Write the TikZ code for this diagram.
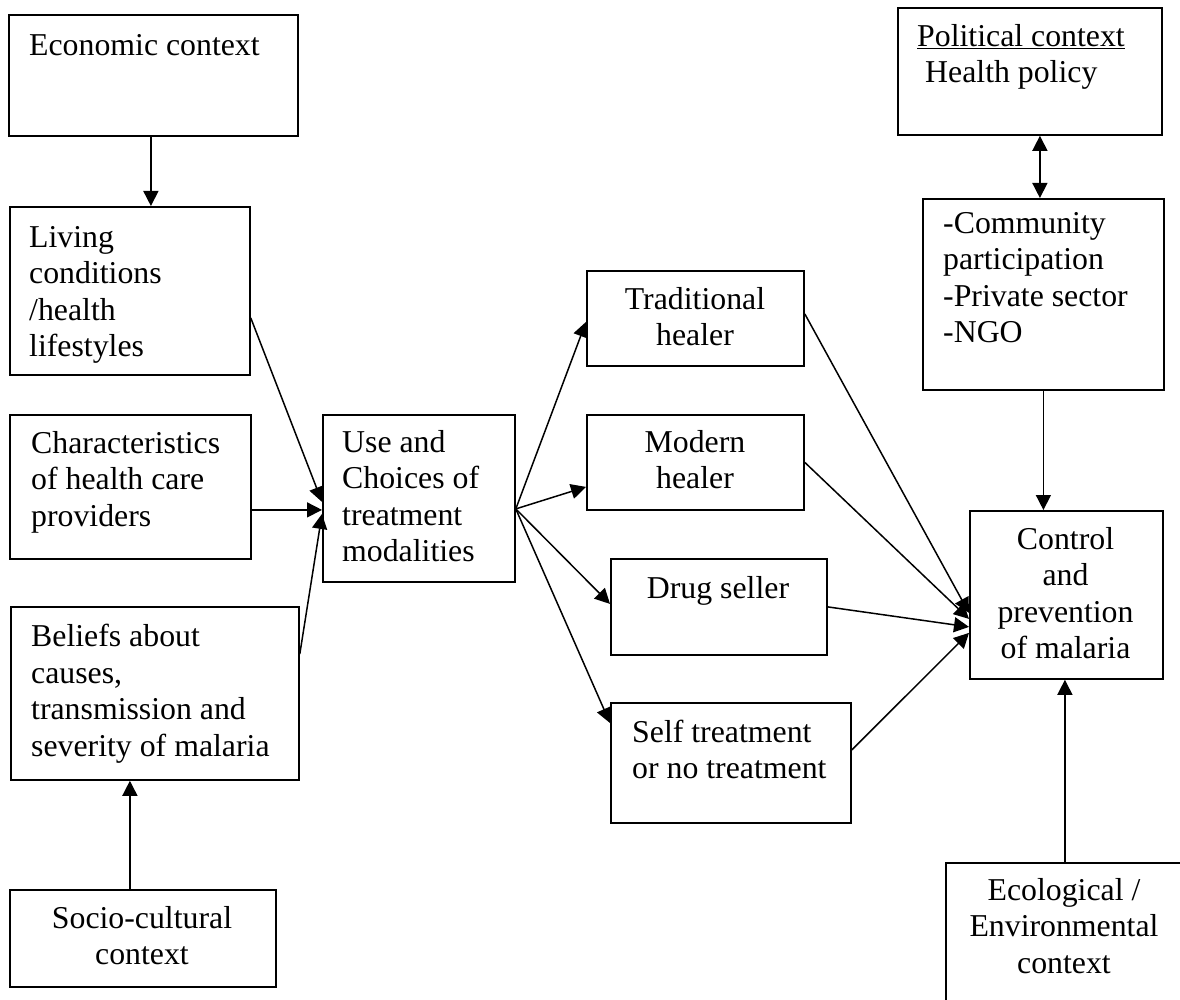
\documentclass[tikz,border=0pt]{standalone}
\usepackage{fontspec}
\setmainfont{Liberation Serif}
\usetikzlibrary{arrows.meta}
\begin{document}
\begin{tikzpicture}[x=1pt,y=-1pt,
  box/.style={draw, line width=1.8pt, rectangle, anchor=north west, inner sep=0pt},
  txt/.style={inner sep=0pt, font=\fontsize{31.8}{36.5}\selectfont, anchor=north west, align=left},
  ctxt/.style={txt, anchor=north, align=center},
  tip/.tip={Triangle[length=15pt,width=15pt]},
  arr/.style={line width=1.5pt, -tip},
  dbl/.style={line width=1.5pt, tip-tip}
]
\useasboundingbox (0,0) rectangle (1180,1000);
\fill[white] (0,0) rectangle (1180,1000);
\clip (0,0) rectangle (1180,1000);

% boxes
\node[box, minimum width=289pt, minimum height=121pt] (econ) at (8,14) {};
\node[box, minimum width=240pt, minimum height=168pt] (living) at (9,206) {};
\node[box, minimum width=241pt, minimum height=144pt] (char) at (9,414) {};
\node[box, minimum width=288pt, minimum height=173pt] (beliefs) at (10,606) {};
\node[box, minimum width=266pt, minimum height=97pt] (socio) at (9,889) {};
\node[box, minimum width=192pt, minimum height=167pt] (use) at (322,414) {};
\node[box, minimum width=217pt, minimum height=95pt] (trad) at (586,270) {};
\node[box, minimum width=217pt, minimum height=95pt] (modern) at (586,414) {};
\node[box, minimum width=216pt, minimum height=96pt] (drug) at (610,558) {};
\node[box, minimum width=240pt, minimum height=120pt] (self) at (610,702) {};
\node[box, minimum width=264pt, minimum height=127pt] (pol) at (897,7) {};
\node[box, minimum width=241pt, minimum height=191pt] (comm) at (922,198) {};
\node[box, minimum width=193pt, minimum height=168pt] (control) at (969,510) {};
\node[box, minimum width=238pt, minimum height=170pt] (eco) at (945,862) {};

% texts
\node[txt] (econ-t) at (29,29.5) {\strut Economic context};
\node[txt] (living-t) at (29,221.5) {\strut Living\\conditions\\/health\\lifestyles};
\node[txt] (char-t) at (31,427.5) {\strut Characteristics\\of health care\\providers};
\node[txt] (beliefs-t) at (31,621) {\strut Beliefs about\\causes,\\transmission and\\severity of malaria};
\node[ctxt] (socio-t) at (142,902.5) {\strut Socio-cultural\\context};
\node[txt] (use-t) at (342,426.5) {\strut Use and\\Choices of\\treatment\\modalities};
\node[ctxt] (trad-t) at (695,283.5) {\strut Traditional\\healer};
\node[ctxt] (modern-t) at (695,426.5) {\strut Modern\\healer};
\node[ctxt] (drug-t) at (718,572.5) {\strut Drug seller};
\node[txt] (self-t) at (632,716.5) {\strut Self treatment\\or no treatment};
\node[txt] (pol-t) at (917,20.5) {\strut\underline{Political context}\\\hspace*{8pt}Health policy};
\node[txt] (comm-t) at (943,207.5) {\strut -Community\\participation\\-Private sector\\-NGO};
\node[ctxt] (control-t) at (1065.5,523.5) {\strut Control\\and\\prevention\\of malaria};
\node[ctxt] (eco-t) at (1064,874.5) {\strut Ecological /\\Environmental\\context};

% junction points on the receiving boxes
\coordinate (uin) at ([yshift=-11.5pt]use.west);
\coordinate (uout) at ([yshift=-10.5pt]use.east);

% connectors
\draw[arr] ([xshift=-2.5pt]econ.south) -- ([xshift=-2.5pt]econ.south |- living.north);
\draw[arr] ([yshift=-112pt]living.north east) -- ([yshift=8pt]uin);
\draw[arr] (char.east |- uin) -- (uin);
\draw[arr] ([yshift=-48pt]beliefs.north east) -- ([yshift=-4pt]uin);
\draw[arr] ([xshift=-13pt]socio.north) -- ([xshift=-13pt]socio.north |- beliefs.south);

\draw[arr] (uout) -- ([yshift=-3.5pt]trad.west);
\draw[arr] (uout) -- ([yshift=-24.5pt]modern.west);
\draw[arr] (uout) -- ([yshift=3pt]drug.west);
\draw[arr] (uout) -- ([yshift=-21pt]self.north west);

\draw[arr] ([yshift=4.5pt]trad.east) -- ([yshift=-18pt]control.west);
\draw[arr] (modern.east) -- ([yshift=-24pt]control.west);
\draw[arr] ([yshift=-0pt]drug.east) -- ([yshift=-32pt]control.west);
\draw[arr] ([yshift=13pt]self.east) -- ([yshift=-38pt]control.west);

\draw[dbl] ([xshift=-3.5pt]comm.north) -- ([xshift=-3.5pt]comm.north |- pol.south);
\draw[arr] (comm.south) -- (comm.south |- control.north);
\draw[arr] (eco.north) -- (eco.north |- control.south);
\end{tikzpicture}
\end{document}
